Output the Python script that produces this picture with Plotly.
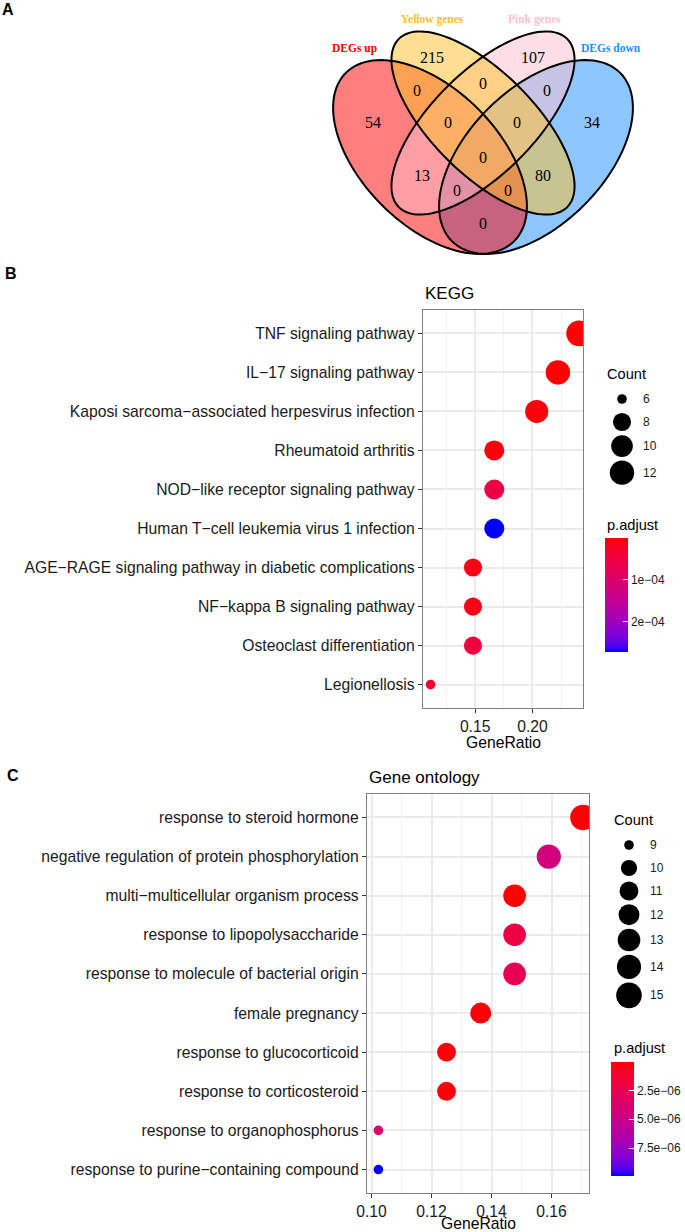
import math
import numpy as np
import plotly.graph_objects as go

W, H = 685, 1232

# ---------------- data ----------------
venn_sets = ["DEGs up", "Yellow genes", "Pink genes", "DEGs down"]
venn_counts = [54, 215, 107, 34, 0, 0, 0, 0, 0, 0, 13, 80, 0, 0, 0]

kegg_terms = ["TNF signaling pathway", "IL\u221217 signaling pathway",
              "Kaposi sarcoma\u2212associated herpesvirus infection", "Rheumatoid arthritis",
              "NOD\u2212like receptor signaling pathway", "Human T\u2212cell leukemia virus 1 infection",
              "AGE\u2212RAGE signaling pathway in diabetic complications", "NF\u2212kappa B signaling pathway",
              "Osteoclast differentiation", "Legionellosis"]
kegg_ratio = [0.2407, 0.2222, 0.2037, 0.1667, 0.1667, 0.1667, 0.1481, 0.1481, 0.1481, 0.1111]
kegg_count = [13, 12, 11, 9, 9, 9, 8, 8, 8, 6]
kegg_padj = [5e-7, 2e-6, 6e-6, 8e-6, 5.5e-5, 2.72e-4, 1.2e-5, 1.2e-5, 4.5e-5, 3.5e-5]
kegg_count_breaks = [6, 8, 10, 12]
kegg_padj_ticks = [1e-4, 2e-4]
kegg_padj_labels = ["1e\u221204", "2e\u221204"]

go_terms = ["response to steroid hormone", "negative regulation of protein phosphorylation",
            "multi\u2212multicellular organism process", "response to lipopolysaccharide",
            "response to molecule of bacterial origin", "female pregnancy",
            "response to glucocorticoid", "response to corticosteroid",
            "response to organophosphorus", "response to purine\u2212containing compound"]
go_ratio = [0.1705, 0.1591, 0.1477, 0.1477, 0.1477, 0.1364, 0.1250, 0.1250, 0.1023, 0.1023]
go_count = [15, 14, 13, 13, 13, 12, 11, 11, 9, 9]
go_padj = [5e-8, 4.5e-6, 1e-7, 2.0e-6, 2.5e-6, 2e-7, 2e-7, 2e-7, 3.5e-6, 9.9e-6]
go_count_breaks = [9, 10, 11, 12, 13, 14, 15]
go_padj_ticks = [2.5e-6, 5.0e-6, 7.5e-6]
go_padj_labels = ["2.5e\u221206", "5.0e\u221206", "7.5e\u221206"]

# ---------------- helpers ----------------
SANS = "Liberation Sans, Arial, sans-serif"
SERIF = "Liberation Serif, Times New Roman, serif"


def _lin(c):
    c = c / 255.0
    return c / 12.92 if c <= 0.04045 else ((c + 0.055) / 1.055) ** 2.4


def _gam(c):
    c = 12.92 * c if c <= 0.0031308 else 1.055 * c ** (1 / 2.4) - 0.055
    return max(0, min(255, round(c * 255)))


def rgb2lab(rgb):
    r, g, b = [_lin(v) for v in rgb]
    X = (0.4124564 * r + 0.3575761 * g + 0.1804375 * b) / 0.95047
    Y = (0.2126729 * r + 0.7151522 * g + 0.0721750 * b)
    Z = (0.0193339 * r + 0.1191920 * g + 0.9503041 * b) / 1.08883
    d = 6 / 29
    f = lambda t: t ** (1 / 3) if t > d ** 3 else t / (3 * d * d) + 4 / 29
    return (116 * f(Y) - 16, 500 * (f(X) - f(Y)), 200 * (f(Y) - f(Z)))


def lab2rgb(lab):
    L, a, b = lab
    d = 6 / 29
    fy = (L + 16) / 116
    fx = fy + a / 500
    fz = fy - b / 200
    fi = lambda t: t ** 3 if t > d else 3 * d * d * (t - 4 / 29)
    X, Y, Z = fi(fx) * 0.95047, fi(fy), fi(fz) * 1.08883
    r = 3.2404542 * X - 1.5371385 * Y - 0.4985314 * Z
    g = -0.9692660 * X + 1.8760108 * Y + 0.0415560 * Z
    bb = 0.0556434 * X - 0.2040259 * Y + 1.0572252 * Z
    return tuple(_gam(max(0, v)) for v in (r, g, bb))


def lab_scale(c0, c1, n=21):
    l0, l1 = rgb2lab(c0), rgb2lab(c1)
    out = []
    for i in range(n):
        t = i / (n - 1)
        lab = tuple(l0[k] + (l1[k] - l0[k]) * t for k in range(3))
        r, g, b = lab2rgb(lab)
        out.append([t, f"rgb({r},{g},{b})"])
    return out


CSCALE = lab_scale((0, 0, 255), (255, 0, 0))  # bottom blue -> top red
K = 3.2


def size_px(c, cmin, cmax):
    return K * (3 + 5 * math.sqrt((c - cmin) / (cmax - cmin)))


def px_x(x):
    return x / W


def px_y(y):
    return 1 - y / H


fig = go.Figure()

# ---------------- dot plots ----------------
panels = [
    dict(terms=kegg_terms, ratio=kegg_ratio, count=kegg_count, padj=kegg_padj, breaks=kegg_count_breaks,
         ticks=kegg_padj_ticks, labels=kegg_padj_labels, box=(423, 310, 583, 708), xr=[0.1045, 0.2441],
         dtick=0.05, title="KEGG", xa="x", ya="y", cb=(605, 538), leg=(605, 374, 622, 641, 399),
         ptitle=(605, 525), ttl_y=293, xt_y=742),
    dict(terms=go_terms, ratio=go_ratio, count=go_count, padj=go_padj, breaks=go_count_breaks,
         ticks=go_padj_ticks, labels=go_padj_labels, box=(367, 794, 589, 1193), xr=[0.0985, 0.1725],
         dtick=0.02, title="Gene ontology", xa="x2", ya="y2", cb=(611, 1062), leg=(612, 820, 629, 648, 845),
         ptitle=(612, 1048), ttl_y=777, xt_y=1223.5),
]

annotations = []
for i, p in enumerate(panels):
    cmin, cmax = min(p["count"]), max(p["count"])
    pmin, pmax = min(p["padj"]), max(p["padj"])
    fig.add_trace(go.Scatter(
        x=p["ratio"], y=p["terms"], mode="markers", xaxis=p["xa"], yaxis=p["ya"], showlegend=False,
        marker=dict(size=[size_px(c, cmin, cmax) for c in p["count"]], sizemode="diameter",
                    color=[-v for v in p["padj"]], colorscale=CSCALE, cmin=-pmax, cmax=-pmin,
                    line=dict(width=0), opacity=1, showscale=True,
                    colorbar=dict(x=px_x(p["cb"][0]), xanchor="left", y=px_y(p["cb"][1]), yanchor="top",
                                  len=114, lenmode="pixels", thickness=23, thicknessmode="pixels",
                                  xpad=0, ypad=0, outlinewidth=0,
                                  tickvals=[-v for v in p["ticks"]], ticktext=p["labels"],
                                  ticks="inside", ticklen=5, tickcolor="white", tickwidth=1,
                                  tickfont=dict(family=SANS, size=12, color="#1a1a1a"))),
    ))
    x0, y0, x1, y1 = p["box"]
    axx = dict(domain=[px_x(x0), px_x(x1)], range=p["xr"], anchor=p["ya"], tick0=0, dtick=p["dtick"],
               tickformat=".2f", ticks="outside", ticklen=4, tickwidth=1.2, tickcolor="#333333",
               showline=True, mirror=True, linecolor="#808080", linewidth=1.3, automargin=False,
               showgrid=True, gridcolor="#EBEBEB", gridwidth=1.6, zeroline=False,
               minor=dict(dtick=p["dtick"] / 2, showgrid=True, gridcolor="#F2F2F2", gridwidth=0.9),
               tickfont=dict(family=SANS, size=15.7, color="#1a1a1a"))
    n = len(p["terms"])
    axy = dict(domain=[px_y(y1), px_y(y0)], type="category", categoryorder="array",
               categoryarray=p["terms"], range=[n - 1 + 0.6, -0.6], anchor=p["xa"],
               ticks="outside", ticklen=4, tickwidth=1.2, tickcolor="#333333", automargin=False,
               showline=True, mirror=True, linecolor="#808080", linewidth=1.3,
               showgrid=True, gridcolor="#EBEBEB", gridwidth=1.6, zeroline=False,
               tickfont=dict(family=SANS, size=15.7, color="#1a1a1a"))
    if i == 0:
        fig.update_layout(xaxis=axx, yaxis=axy)
    else:
        fig.update_layout(xaxis2=axx, yaxis2=axy)

    # title, x-axis title
    annotations.append(dict(x=x0, y=p["ttl_y"], xref="x3", yref="y3", text=p["title"], showarrow=False,
                            xanchor="left", yanchor="middle", font=dict(family=SANS, size=17, color="black")))
    annotations.append(dict(x=(x0 + x1) / 2, y=p["xt_y"], xref="x3", yref="y3", text="GeneRatio",
                            showarrow=False, xanchor="center", yanchor="middle",
                            font=dict(family=SANS, size=15.7, color="black")))
    # size legend
    lt_x, lt_y, dot_x, lab_x, first_y = p["leg"]
    annotations.append(dict(x=lt_x, y=lt_y, xref="x3", yref="y3", text="Count", showarrow=False,
                            xanchor="left", yanchor="middle", font=dict(family=SANS, size=14.6, color="black")))
    annotations.append(dict(x=p["ptitle"][0], y=p["ptitle"][1], xref="x3", yref="y3", text="p.adjust",
                            showarrow=False, xanchor="left", yanchor="middle",
                            font=dict(family=SANS, size=14.6, color="black")))
    diam = [size_px(c, cmin, cmax) for c in p["breaks"]]
    hk = [max(23, d + 3.5) for d in diam]
    ys = [first_y]
    for j in range(1, len(diam)):
        ys.append(ys[-1] + (hk[j - 1] + hk[j]) / 2)
    fig.add_trace(go.Scatter(x=[dot_x] * len(ys), y=ys, mode="markers", xaxis="x3", yaxis="y3",
                             showlegend=False, hoverinfo="skip",
                             marker=dict(size=diam, color="black", opacity=1, line=dict(width=0))))
    for b, yy in zip(p["breaks"], ys):
        annotations.append(dict(x=lab_x, y=yy, xref="x3", yref="y3", text=str(b), showarrow=False,
                                xanchor="left", yanchor="middle",
                                font=dict(family=SANS, size=12, color="#1a1a1a")))

# ---------------- Venn diagram ----------------
# ellipse geometry (pixel space): center, semi-axes, rotation
venn_geom = {
    "DEGs up": (430, 157, 119, 68, 45),
    "Yellow genes": (483, 123, 119, 51, 45),
    "Pink genes": (483, 123, 119, 51, -45),
    "DEGs down": (536, 157, 119, 68, -45),
}
venn_fill = {"DEGs up": (255, 0, 0), "Yellow genes": (255, 193, 37),
             "Pink genes": (255, 192, 203), "DEGs down": (30, 144, 255)}
venn_label_pos = {"DEGs up": (354, 48), "Yellow genes": (432, 19),
                  "Pink genes": (534, 19), "DEGs down": (611, 48)}
venn_num_pos = [(373, 122), (432, 57), (533, 57), (592, 122), (417, 90), (483, 83), (547, 90),
                (448, 122), (517, 122), (483, 157), (422, 175), (543, 175), (457, 190), (508, 190),
                (483, 223)]


def ellipse_path(cx, cy, a, b, deg, n=120):
    th = math.radians(deg)
    pts = []
    for k in range(n):
        t = 2 * math.pi * k / n
        x = cx + a * math.cos(t) * math.cos(th) - b * math.sin(t) * math.sin(th)
        y = cy + a * math.cos(t) * math.sin(th) + b * math.sin(t) * math.cos(th)
        pts.append(f"{x:.2f},{y:.2f}")
    return "M " + " L ".join(pts) + " Z"


shapes = []
draw_order = ["DEGs down", "DEGs up", "Pink genes", "Yellow genes"]
for s in draw_order:
    r, g, b = venn_fill[s]
    shapes.append(dict(type="path", path=ellipse_path(*venn_geom[s]), xref="x3", yref="y3",
                       fillcolor=f"rgba({r},{g},{b},0.5)", line=dict(width=0), layer="above"))
for s in draw_order:
    shapes.append(dict(type="path", path=ellipse_path(*venn_geom[s]), xref="x3", yref="y3",
                       fillcolor="rgba(0,0,0,0)", line=dict(color="black", width=2), layer="above"))

for s in venn_sets:
    r, g, b = venn_fill[s]
    annotations.append(dict(x=venn_label_pos[s][0], y=venn_label_pos[s][1], xref="x3", yref="y3", text=s,
                            showarrow=False, xanchor="center", yanchor="middle",
                            font=dict(family=SERIF, size=11.5, color=f"rgb({r},{g},{b})", weight="bold")))
for c, (x, y) in zip(venn_counts, venn_num_pos):
    annotations.append(dict(x=x, y=y, xref="x3", yref="y3", text=str(c), showarrow=False,
                            xanchor="center", yanchor="middle", font=dict(family=SERIF, size=16, color="black")))

# panel letters
for letter, (x, y) in zip(["A", "B", "C"], [(8, 9), (11, 273), (13, 775)]):
    annotations.append(dict(x=x, y=y, xref="x3", yref="y3", text=letter, showarrow=False,
                            xanchor="center", yanchor="middle",
                            font=dict(family=SANS, size=16, color="black", weight="bold")))

fig.update_layout(
    template="none",
    width=W, height=H, margin=dict(l=0, r=0, t=0, b=0, pad=0, autoexpand=False),
    paper_bgcolor="white", plot_bgcolor="rgba(0,0,0,0)",
    xaxis3=dict(domain=[0, 1], range=[0, W], visible=False, anchor="y3", fixedrange=True, automargin=False),
    yaxis3=dict(domain=[0, 1], range=[H, 0], visible=False, anchor="x3", fixedrange=True, automargin=False),
    shapes=shapes, annotations=annotations, showlegend=False,
)

fig.write_html("out.html", config={"displayModeBar": False},
               post_script="document.body.style.margin='0';document.body.style.overflow='hidden';")
